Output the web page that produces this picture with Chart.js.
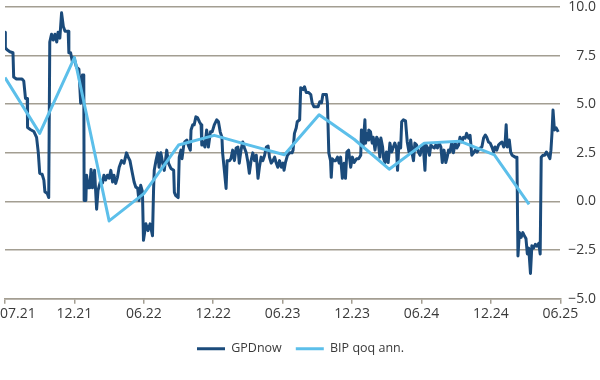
<!DOCTYPE html>
<html>
<head>
<meta charset="utf-8">
<script src="https://cdn.jsdelivr.net/npm/chart.js@4.4.1/dist/chart.umd.min.js"></script>
<style>
  html, body { margin: 0; padding: 0; background: #ffffff; }
  #wrap { width: 600px; height: 380px; }
</style>
</head>
<body>
<div id="wrap"><canvas id="c" width="600" height="380"></canvas></div>
<script>
// x position unit: quarters since the first tick (07.21); ticks every 2 quarters
const xTickLabels = ["07.21","12.21","06.22","12.22","06.23","12.23","06.24","12.24","06.25"];
const yTicks = [-5, -2.5, 0, 2.5, 5, 7.5, 10];

const gdpX = [0.00,0.01,0.06,0.14,0.23,0.25,0.33,0.49,0.54,0.59,
0.64,0.65,0.73,0.83,0.91,0.96,1.00,1.07,1.12,1.15,
1.22,1.26,1.29,1.34,1.39,1.44,1.49,1.53,1.58,1.63,
1.68,1.73,1.82,1.84,1.89,1.94,1.99,2.06,2.13,2.18,
2.23,2.27,2.28,2.33,2.35,2.40,2.44,2.48,2.52,2.58,
2.64,2.68,2.76,2.81,2.85,2.90,2.95,3.00,3.05,3.10,
3.14,3.19,3.24,3.29,3.36,3.43,3.50,3.55,3.60,3.67,
3.72,3.77,3.82,3.86,3.91,3.96,3.99,4.06,4.12,4.18,
4.25,4.28,4.30,4.35,4.40,4.44,4.49,4.54,4.59,4.66,
4.71,4.78,4.86,4.88,4.92,4.99,5.02,5.07,5.10,5.15,
5.18,5.24,5.28,5.34,5.36,5.41,5.45,5.50,5.55,5.60,
5.65,5.67,5.71,5.76,5.81,5.86,5.92,5.97,6.03,6.10,
6.15,6.20,6.25,6.27,6.32,6.37,6.40,6.47,6.51,6.56,
6.61,6.66,6.71,6.75,6.80,6.85,6.90,6.95,7.00,7.04,
7.09,7.14,7.19,7.24,7.29,7.33,7.38,7.43,7.48,7.53,
7.58,7.62,7.67,7.72,7.77,7.81,7.86,7.91,7.96,8.01,
8.04,8.08,8.14,8.20,8.27,8.30,8.34,8.39,8.42,8.49,
8.52,8.59,8.63,8.68,8.75,8.81,8.85,8.90,9.02,9.07,
9.12,9.16,9.26,9.29,9.33,9.38,9.40,9.43,9.48,9.53,
9.58,9.63,9.67,9.72,9.77,9.81,9.85,9.90,9.96,10.01,
10.06,10.13,10.19,10.25,10.27,10.32,10.37,10.39,10.42,10.47,
10.48,10.53,10.58,10.61,10.66,10.71,10.75,10.80,10.83,10.88,
10.91,10.95,10.99,11.04,11.09,11.14,11.19,11.23,11.28,11.31,
11.35,11.40,11.43,11.48,11.54,11.59,11.64,11.69,11.74,11.77,
11.81,11.86,11.91,11.96,12.01,12.05,12.10,12.13,12.18,12.23,
12.27,12.32,12.37,12.41,12.46,12.51,12.56,12.60,12.65,12.70,
12.74,12.78,12.82,12.87,12.92,12.97,13.02,13.07,13.11,13.16,
13.21,13.26,13.30,13.36,13.40,13.45,13.50,13.55,13.60,13.64,
13.69,13.74,13.79,13.84,13.88,13.93,13.98,14.03,14.08,14.12,
14.17,14.22,14.27,14.32,14.37,14.41,14.44,14.47,14.53,14.57,
14.61,14.70,14.75,14.78,14.82,14.87,14.92,14.96,15.01,15.05,
15.09,15.14,15.18,15.23,15.28,15.33,15.38,15.42,15.45,15.50,
15.55,15.60,15.65,15.70,15.73,15.76,15.79,15.83,15.88,15.94];

const gdpNow = [8.7,7.9,7.8,7.7,7.65,6.4,6.3,6.3,6.2,5.3,
5.3,3.8,3.7,3.6,3.3,2.5,1.45,1.4,1.1,0.5,
0.4,0.2,8.2,8.6,8.3,8.6,8.2,8.7,8.4,9.7,
9.0,8.75,8.75,7.65,7.65,7.2,7.4,6.9,6.8,5.05,
6.5,6.5,0.05,0.05,1.35,0.7,0.7,1.65,0.7,1.6,
-0.4,0.57,1.1,0.95,1.35,1.1,1.35,1.2,1.6,1.0,
1.35,0.93,1.24,1.76,2.1,1.97,2.5,2.28,2.1,1.45,
1.0,0.73,0.7,0.05,0.83,0.5,-2.0,-1.15,-1.5,-1.15,
-1.76,0.57,1.6,2.1,2.5,1.76,2.5,2.0,1.6,2.64,
1.97,1.7,1.6,0.47,0.3,0.2,2.28,2.64,2.2,2.9,
3.06,3.16,2.9,2.64,3.68,3.94,3.94,4.35,4.3,4.1,
3.94,2.9,3.06,2.8,3.68,2.8,3.58,3.58,3.94,4.2,
4.1,3.58,3.3,2.5,1.6,0.67,2.1,2.1,2.2,2.64,
2.1,2.75,2.8,1.97,2.64,3.06,2.75,2.5,2.0,1.45,
2.1,2.5,2.1,2.38,1.19,1.76,2.28,2.1,2.38,2.8,
2.85,2.28,1.97,2.1,2.28,2.0,1.76,2.1,1.76,1.97,
1.6,2.0,2.38,2.5,2.5,2.64,3.5,3.78,4.1,4.2,
5.85,5.75,5.9,5.6,5.6,5.5,5.07,4.87,4.87,5.13,
5.07,5.5,5.5,5.07,2.5,2.1,1.24,2.2,2.1,2.1,
2.28,1.97,2.28,1.19,1.97,1.19,2.54,2.64,1.76,2.28,
2.0,2.2,2.2,2.38,3.68,2.9,4.2,3.0,3.5,3.16,
3.68,3.58,3.0,3.3,2.64,3.3,3.16,2.28,3.26,2.8,
2.2,2.0,2.54,2.0,3.0,2.54,2.8,3.0,2.75,1.6,
3.0,2.75,4.1,4.2,4.15,3.06,2.54,3.16,2.38,2.1,
3.0,2.9,2.54,2.38,2.8,2.9,1.6,2.9,2.75,2.38,
2.9,2.8,2.75,2.9,2.75,3.0,2.8,2.0,2.64,2.0,
2.28,2.64,2.54,3.0,2.5,3.0,2.75,2.9,3.3,3.06,
3.3,3.26,3.5,3.26,3.4,2.38,2.5,2.64,2.54,2.64,
2.75,2.8,3.26,3.42,3.3,3.06,3.0,2.8,2.54,2.8,
2.64,2.9,3.0,3.06,2.8,3.0,3.94,2.8,3.16,2.54,
2.38,2.28,2.28,-2.8,-1.6,-1.85,-1.6,-1.75,-1.9,-2.7,
-2.4,-3.7,-2.28,-2.4,-2.2,-2.3,-2.15,-2.7,2.28,2.38,
2.38,2.54,2.38,2.2,2.64,3.5,4.7,3.68,3.78,3.58];

const bipX = [0,1,2,3,4,5,6.03,7.03,8.05,9.05,10.06,11.07,12.08,13.1,14.1,15.1];
const bipQoq = [6.37,3.5,7.4,-1.0,0.4,2.9,3.4,2.9,2.4,4.46,3.2,1.66,3.0,3.1,2.4,-0.15];

const seriesNames = ["GPDnow", "BIP qoq ann."];

const gridColor = '#a39e92';
const textColor = '#3a3a3a';
const fontFamily = "'Open Sans', 'Noto Sans', sans-serif";

const firstLabelPlugin = {
  id: 'firstLabelInside',
  beforeDraw(chart) {
    const s = chart.scales.x;
    const items = s.getLabelItems();
    if (items && items.length) {
      items[0].options.textAlign = 'left';
      items[0].options.translation[0] = 0;
    }
  }
};

new Chart(document.getElementById('c'), {
  type: 'line',
  data: {
    datasets: [
      {
        label: seriesNames[0],
        data: gdpX.map((x, i) => ({x: x, y: gdpNow[i]})),
        borderColor: '#1b4b7b',
        backgroundColor: '#1b4b7b',
        borderWidth: 3,
        pointRadius: 0,
        tension: 0,
        borderJoinStyle: 'round',
        order: 1
      },
      {
        label: seriesNames[1],
        data: bipX.map((x, i) => ({x: x, y: bipQoq[i]})),
        borderColor: '#5cbfea',
        backgroundColor: '#5cbfea',
        borderWidth: 3,
        pointRadius: 0,
        tension: 0,
        borderJoinStyle: 'round',
        order: 0
      }
    ]
  },
  options: {
    responsive: false,
    animation: false,
    layout: { padding: { left: 5, right: 4, top: 7, bottom: 15 } },
    plugins: {
      tooltip: { enabled: false },
      legend: {
        position: 'bottom',
        labels: {
          boxWidth: 28,
          boxHeight: 3,
          padding: 14,
          color: textColor,
          font: { family: fontFamily, size: 12.5 },
          sort: (a, b) => a.datasetIndex - b.datasetIndex,
          generateLabels: (chart) => Chart.defaults.plugins.legend.labels.generateLabels(chart).map(l => Object.assign(l, {lineWidth: 0}))
        }
      }
    },
    scales: {
      x: {
        type: 'linear',
        min: 0,
        max: 16,
        afterFit: (scale) => { scale.paddingLeft = 0; scale.height += 4; },
        ticks: {
          stepSize: 2,
          autoSkip: false,
          maxRotation: 0,
          padding: 2,
          color: textColor,
          font: { family: fontFamily, size: 14 },
          callback: (v) => xTickLabels[Math.round(v / 2)]
        },
        grid: { drawOnChartArea: false, drawTicks: true, tickLength: 5, color: gridColor, lineWidth: 1.5 },
        border: { display: true, color: gridColor, width: 1.5 }
      },
      y: {
        position: 'right',
        min: -5,
        max: 10,
        afterBuildTicks: (scale) => { scale.ticks = yTicks.map(v => ({value: v})); },
        afterFit: (scale) => { scale.paddingTop = 0; },
        ticks: {
          crossAlign: 'far',
          padding: 4,
          color: textColor,
          font: { family: fontFamily, size: 14 },
          callback: (v) => (v < 0 ? '\u2212' : '') + Math.abs(v).toFixed(1)
        },
        grid: { drawTicks: false, color: gridColor, lineWidth: 1.5 },
        border: { display: false }
      }
    }
  },
  plugins: [firstLabelPlugin]
});
</script>
</body>
</html>
